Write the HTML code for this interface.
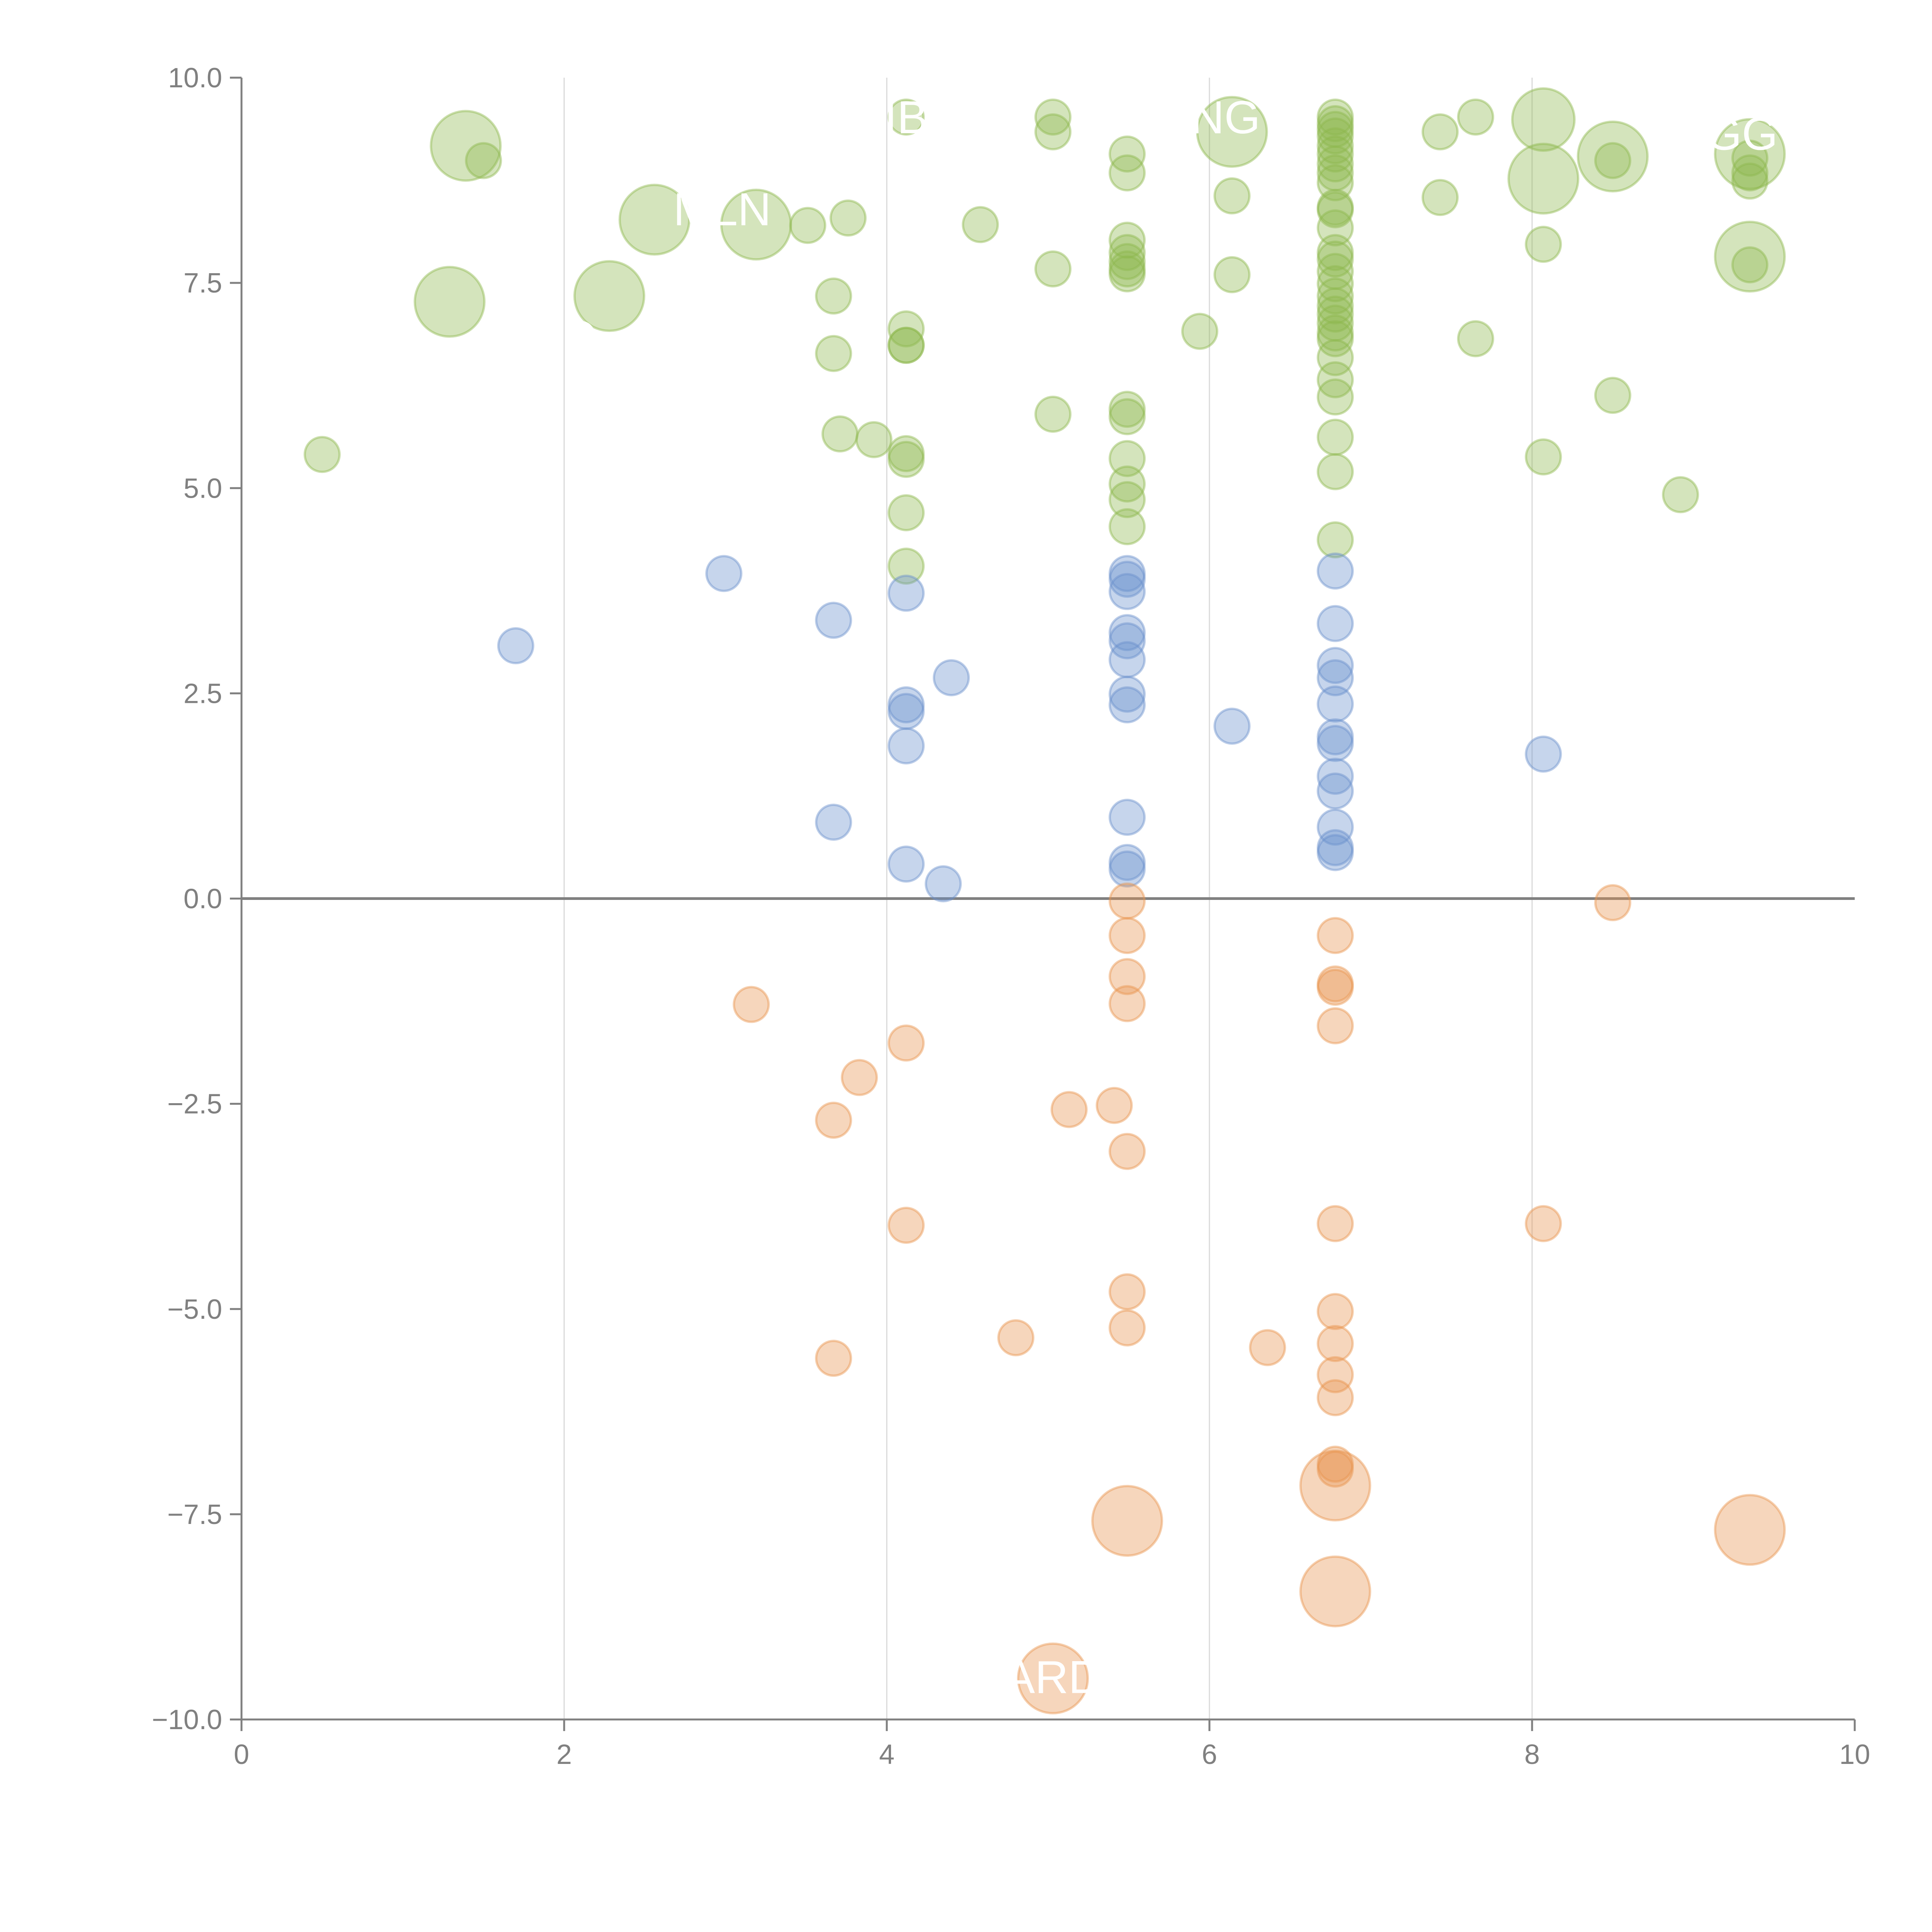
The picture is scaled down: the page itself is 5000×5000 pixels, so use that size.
<!DOCTYPE html>
<html><head><meta charset="utf-8"><style>
html,body{margin:0;padding:0;background:#fff;}
svg{display:block;font-family:"Liberation Sans",Arial,sans-serif;}
</style></head><body>
<svg id="chart" width="5000" height="5000" viewBox="0 0 5000 5000" xmlns="http://www.w3.org/2000/svg">
<g id="grid"></g>
<g id="zero"></g>
<g id="marks"></g>
<g id="labels"></g>
<g id="axes"></g>
</svg>
<script>
const greenX=[0.50,1.50,3.51,3.76,3.67,3.67,3.71,3.92,4.12,4.12,4.12,4.12,4.12,4.12,4.12,4.12,4.58,5.03,5.03,5.03,5.03,5.49,5.49,5.49,5.49,5.49,5.49,5.49,5.49,5.49,5.49,5.49,5.49,5.49,5.94,6.14,6.14,6.78,6.78,6.78,6.78,6.78,6.78,6.78,6.78,6.78,6.78,6.78,6.78,6.78,6.78,6.78,6.78,6.78,6.78,6.78,6.78,6.78,6.78,6.78,6.78,6.78,6.78,6.78,6.78,7.43,7.43,7.65,7.65,8.07,8.07,8.50,8.50,8.92,9.35,9.35,9.35,9.35,1.39,1.29,2.28,2.56,3.19,6.14,8.07,8.07,8.50,9.35,9.35];
const greenY=[5.41,8.99,8.20,8.29,7.34,6.64,5.66,5.59,9.52,6.94,6.74,6.74,5.42,5.35,4.70,4.05,8.21,9.52,9.34,7.67,5.90,9.07,8.84,8.02,7.87,7.76,7.67,7.61,5.96,5.87,5.36,5.05,4.86,4.53,6.91,8.56,7.60,9.52,9.44,9.37,9.29,9.17,9.07,8.95,8.84,8.72,8.42,8.39,8.17,7.87,7.79,7.64,7.49,7.34,7.22,7.12,7.01,6.89,6.82,6.59,6.32,6.11,5.62,5.20,4.37,9.34,8.54,9.52,6.82,5.38,7.97,8.99,6.13,4.92,9.02,8.84,8.74,7.72,9.17,7.27,7.34,8.27,8.21,9.34,9.49,8.77,9.04,9.07,7.82];
const greenS=[1,1,1,1,1,1,1,1,1,1,1,1,1,1,1,1,1,1,1,1,1,1,1,1,1,1,1,1,1,1,1,1,1,1,1,1,1,1,1,1,1,1,1,1,1,1,1,1,1,1,1,1,1,1,1,1,1,1,1,1,1,1,1,1,1,1,1,1,1,1,1,1,1,1,1,1,1,1,4,4,4,4,4,4,3.2,4,4,4,4];
const blueX=[1.70,2.99,3.67,3.67,4.12,4.12,4.12,4.12,4.12,4.35,4.40,5.49,5.49,5.49,5.49,5.49,5.49,5.49,5.49,5.49,5.49,5.49,6.14,6.78,6.78,6.78,6.78,6.78,6.78,6.78,6.78,6.78,6.78,6.78,6.78,8.07];
const blueY=[3.08,3.96,3.39,0.93,3.72,2.36,2.28,1.86,0.42,0.18,2.69,3.96,3.89,3.74,3.24,3.14,2.91,2.49,2.36,0.99,0.44,0.36,2.10,3.99,3.35,2.84,2.69,2.37,1.97,1.89,1.49,1.31,0.87,0.62,0.56,1.76];
const orangeX=[3.16,3.83,3.67,3.67,4.12,4.12,4.80,5.13,5.41,5.49,5.49,5.49,5.49,5.49,5.49,5.49,6.36,6.78,6.78,6.78,6.78,6.78,6.78,6.78,6.78,6.78,6.78,6.78,8.07,8.50,5.49,6.78,6.78,9.35,5.03];
const orangeY=[-1.29,-2.18,-2.70,-5.60,-1.76,-3.98,-5.35,-2.57,-2.52,-0.03,-0.45,-0.95,-1.28,-3.08,-4.79,-5.23,-5.47,-0.45,-1.04,-1.08,-1.55,-3.96,-5.03,-5.42,-5.80,-6.08,-6.89,-6.95,-3.96,-0.05,-7.58,-7.15,-8.44,-7.69,-9.50];
const orangeS=[1,1,1,1,1,1,1,1,1,1,1,1,1,1,1,1,1,1,1,1,1,1,1,1,1,1,1,1,1,1,4,4,4,4,4];
const xTicks=[0,2,4,6,8,10];
const yTicks=[-10,-7.5,-5,-2.5,0,2.5,5,7.5,10];
const yTickLabels=["\u221210.0","\u22127.5","\u22125.0","\u22122.5","0.0","2.5","5.0","7.5","10.0"];
const labelText=["MLN","ARD","GG","NG","IB","D"];
const labelX=[2.98,5.03,9.30,6.10,4.12,2.10];
const labelY=[8.40,-9.48,9.32,9.52,9.52,6.85];

const NS="http://www.w3.org/2000/svg";
const X0=625,X1=4800,Y0=4450,Y1=201;
function sx(v){return X0+(v-0)/(10-0)*(X1-X0);}
function sy(v){return Y0-(v+10)/20*(Y0-Y1);}
function mk(tag,attrs,parent){const e=document.createElementNS(NS,tag);for(const k in attrs)e.setAttribute(k,attrs[k]);parent.appendChild(e);return e;}
const grid=document.getElementById('grid'),axes=document.getElementById('axes'),marks=document.getElementById('marks'),labels=document.getElementById('labels'),zero=document.getElementById('zero');

xTicks.forEach(t=>{
  if(t>0&&t<10){const l=mk('line',{x1:sx(t),x2:sx(t),y1:Y1,y2:Y0,stroke:'#d9d9d9','stroke-width':3},grid);
  
  }
  const tk=mk('line',{x1:sx(t),x2:sx(t),y1:Y0,y2:Y0+30,stroke:'#808080','stroke-width':5},axes);
  
  
  const tx=mk('text',{x:sx(t),y:Y0+115,'text-anchor':'middle','font-size':72,fill:'#808080'},axes);
  tx.textContent=t;
  
  
});
yTicks.forEach((t,i)=>{
  const tk=mk('line',{x1:X0-30,x2:X0,y1:sy(t),y2:sy(t),stroke:'#808080','stroke-width':5},axes);
  
  
  const tx=mk('text',{x:X0-50,y:sy(t)+25,'text-anchor':'end','font-size':72,fill:'#808080'},axes);
  tx.textContent=yTickLabels[i];
  
  
});
const xa=mk('line',{x1:X0,x2:X1,y1:Y0,y2:Y0,stroke:'#808080','stroke-width':5},axes);


const ya=mk('line',{x1:X0,x2:X0,y1:Y1,y2:Y0,stroke:'#808080','stroke-width':5},axes);


const zl=mk('line',{x1:X0,x2:X1,y1:sy(0),y2:sy(0),stroke:'#808080','stroke-width':7},zero);



function series(xs,ys,ss,fill,stroke,name){
  xs.forEach((x,i)=>{
    const s=ss?ss[i]:1;
    const c=mk('circle',{cx:sx(x),cy:sy(ys[i]),r:45*Math.sqrt(s),fill:fill,'fill-opacity':0.38,stroke:stroke,'stroke-opacity':0.45,'stroke-width':6},marks);
    
    
  });
}
series(greenX,greenY,greenS,'#8db84e','#8db84e','green-bubble');
series(blueX,blueY,null,'#6a91cc','#6a91cc','blue-bubble');
series(orangeX,orangeY,orangeS,'#e8944e','#e8944e','orange-bubble');

labelText.forEach((t,i)=>{
  const tx=mk('text',{x:sx(labelX[i]),y:sy(labelY[i])+42,'text-anchor':'middle','font-size':120,fill:'#ffffff'},labels);
  tx.textContent=t;
  
  
});
</script>
</body></html>
